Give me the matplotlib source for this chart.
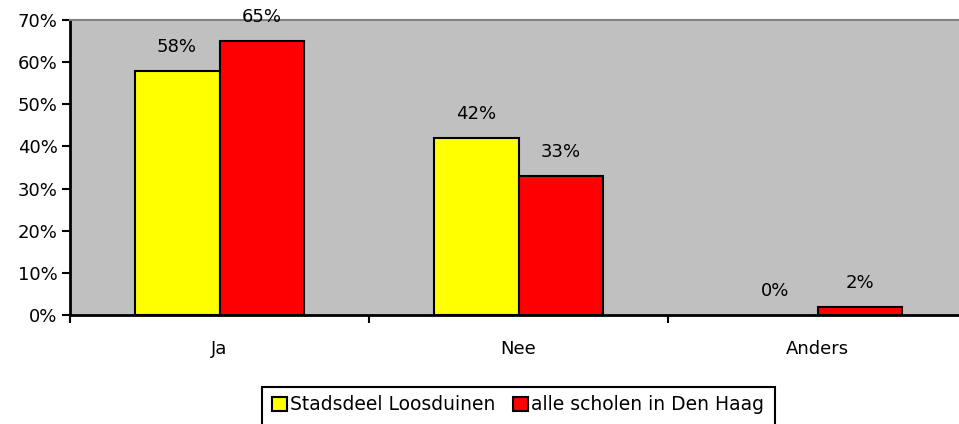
import matplotlib.pyplot as plt
from matplotlib.patches import Rectangle
import numpy as np

categories = ["Ja", "Nee", "Anders"]
loosduinen = [58, 42, 0]
den_haag = [65, 33, 2]
series_names = ["Stadsdeel Loosduinen", "alle scholen in Den Haag"]
yticks = [0, 10, 20, 30, 40, 50, 60, 70]

W, H = 959, 424
fig = plt.figure(figsize=(W / 100, H / 100), dpi=100)
# plot area runs past the right edge of the picture, as in the original
ax = fig.add_axes([70 / W, (H - 315) / H, 897 / W, 295 / H])
ax.set_facecolor("#c0c0c0")

x = np.arange(len(categories))
w = 0.284
b1 = ax.bar(x - w / 2, loosduinen, w, color="#ffff00", edgecolor="black", linewidth=1.5,
            label=series_names[0])
b2 = ax.bar(x + w / 2, den_haag, w, color="#ff0000", edgecolor="black", linewidth=1.5,
            label=series_names[1])

for bars, vals in [(b1, loosduinen), (b2, den_haag)]:
    for rect, v in zip(bars, vals):
        if v == 0:
            rect.set_linewidth(0)  # empty bar, no outline
        ax.annotate(f"{v}%", (rect.get_x() + rect.get_width() / 2, v),
                    xytext=(0, 17), textcoords="offset points",
                    ha="center", va="center", fontsize=13)

ax.set_xlim(-0.5, 2.5)
ax.set_ylim(0, 70)
ax.set_yticks(yticks)
ax.set_yticklabels([f"{t}%" for t in yticks], fontsize=13)
ax.set_xticks(x)
ax.set_xticklabels(categories, fontsize=13)
ax.set_xticks([-0.5, 0.5, 1.5], minor=True)
ax.tick_params(axis="x", which="major", length=0, pad=18)
ax.tick_params(axis="x", which="minor", length=6, width=1.5, direction="out")
ax.tick_params(axis="y", length=6, width=1.5, direction="out", pad=3)

ax.spines["right"].set_visible(False)
ax.spines["top"].set_color("#808080")
ax.spines["top"].set_linewidth(1.5)
for side in ["left", "bottom"]:
    ax.spines[side].set_linewidth(2)
    ax.spines[side].set_color("black")

# legend without its own frame; the box runs off the bottom like the original
leg = fig.legend(handles=[b1, b2], loc="center", ncol=2,
                 bbox_to_anchor=(518 / W, 1 - 405 / H), fontsize=13.5,
                 frameon=False, handlelength=0.8, handleheight=0.8,
                 handletextpad=0.2, columnspacing=0.9, borderaxespad=0)
fig.patches.append(Rectangle((262 / W, -0.05), 513 / W, 0.05 + (H - 387) / H,
                             transform=fig.transFigure, fill=False,
                             edgecolor="black", linewidth=1.5, clip_on=False))

fig.savefig("out.png", dpi=100)
